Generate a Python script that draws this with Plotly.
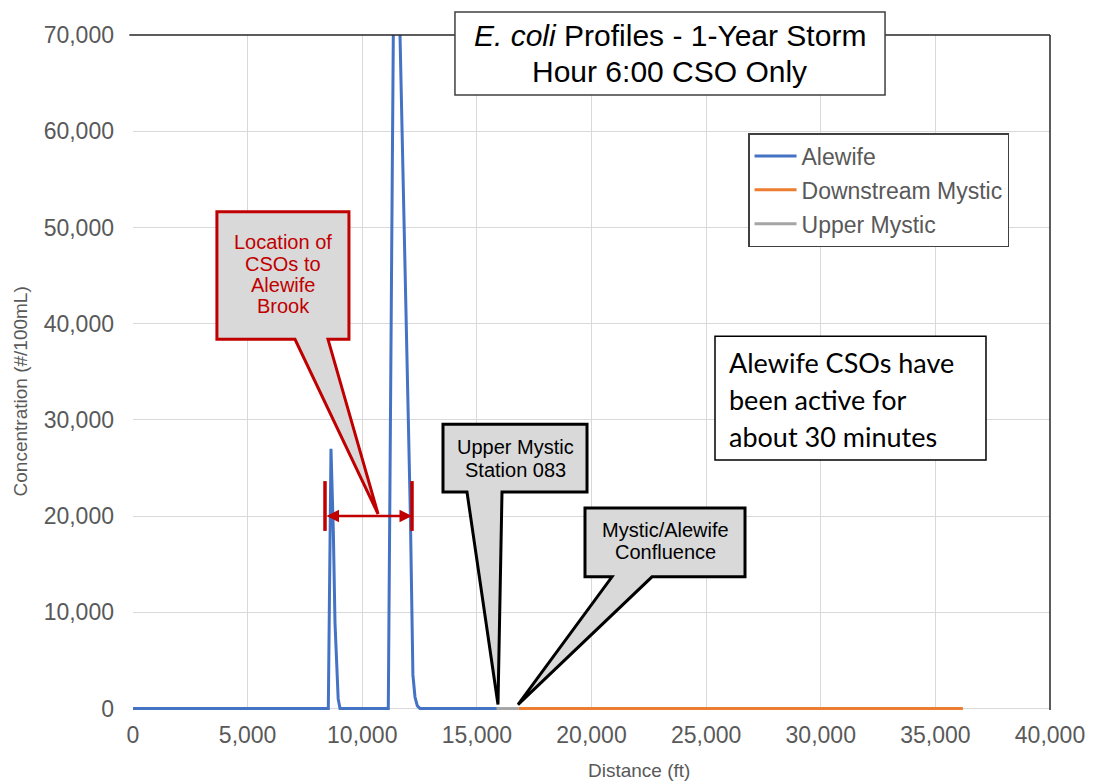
import plotly.graph_objects as go

# ---------------- data ----------------
alewife_x = [0, 8520, 8636, 8740, 8810, 8885, 8950, 9030, 11136, 11430, 12100, 12210, 12300, 12400, 12520, 15870]
alewife_y = [0, 0, 27000, 18300, 9000, 3500, 1000, 0, 0, 94000, 20000, 3500, 1200, 300, 0, 0]

upper_mystic_x = [15870, 16830]
upper_mystic_y = [0, 0]

downstream_x = [16830, 36200]
downstream_y = [0, 0]

x_ticks = [0, 5000, 10000, 15000, 20000, 25000, 30000, 35000, 40000]
y_ticks = [0, 10000, 20000, 30000, 40000, 50000, 60000, 70000]

BLUE = "#4472c4"
ORANGE = "#ed7d31"
GREY = "#a5a5a5"
RED = "#c00000"
TXT = "#595959"
FONT = "Liberation Sans, Arial, sans-serif"

fig = go.Figure()
fig.add_trace(go.Scatter(x=alewife_x, y=alewife_y, mode="lines", name="Alewife",
                         line=dict(color=BLUE, width=3), legendgroup="a"))
fig.add_trace(go.Scatter(x=downstream_x, y=downstream_y, mode="lines", name="Downstream Mystic",
                         line=dict(color=ORANGE, width=3), legendgroup="b"))
fig.add_trace(go.Scatter(x=upper_mystic_x, y=upper_mystic_y, mode="lines", name="Upper Mystic",
                         line=dict(color=GREY, width=3), legendgroup="c"))

shapes = []
annotations = []

# plot frame: black top and right edges
shapes.append(dict(type="line", xref="paper", yref="paper", x0=-0.004, x1=1, y0=1, y1=1,
                   line=dict(color="#262626", width=1.5), layer="above"))
shapes.append(dict(type="line", xref="paper", yref="paper", x0=1, x1=1, y0=0, y1=1,
                   line=dict(color="#262626", width=1.5), layer="above"))


def callout(box, base, tip, edge_color):
    x0, x1, ytop, ybot = box
    b0, b1 = base
    tx, ty = tip
    path = (f"M {x0},{ytop} L {x1},{ytop} L {x1},{ybot} L {b1},{ybot} "
            f"L {tx},{ty} L {b0},{ybot} L {x0},{ybot} Z")
    shapes.append(dict(type="path", xref="x", yref="y", path=path,
                       fillcolor="#d9d9d9", line=dict(color=edge_color, width=3), layer="above"))


def lines_text(xc, ys, texts, color, size, family=FONT, xanchor="center"):
    for yy, t in zip(ys, texts):
        annotations.append(dict(x=xc, y=yy, xref="x", yref="y", text=t, showarrow=False,
                                xanchor=xanchor, yanchor="middle",
                                font=dict(family=family, size=size, color=color)))


# red callout: Location of CSOs to Alewife Brook
callout((3660, 9420, 51644, 38370), (7067, 8506), (10690, 20220), RED)
lines_text(6543, [48481, 46252, 43970, 41793],
           ["Location of", "CSOs to", "Alewife", "Brook"], RED, 20)

# red double arrow
annotations.append(dict(x=12170, y=20000, ax=8375, ay=20000, xref="x", yref="y",
                        axref="x", ayref="y", showarrow=True, arrowhead=2, startarrowhead=2,
                        arrowside="end+start", arrowsize=1, startarrowsize=1,
                        arrowwidth=2.5, arrowcolor=RED, standoff=0, startstandoff=0, text=""))
for bx in (8375, 12170):
    shapes.append(dict(type="line", xref="x", yref="y", x0=bx, x1=bx, y0=18460, y1=23640,
                       line=dict(color=RED, width=3.5), layer="above"))

# Upper Mystic Station 083
callout((13522, 19804, 29556, 22504), (14569, 16096), (15921, 415), "#000000")
lines_text(16706, [27170, 24785], ["Upper Mystic", "Station 083"], "#000000", 20)

# Mystic/Alewife Confluence
callout((19716, 26696, 20844, 13689), (20894, 22639), (16794, 415), "#000000")
lines_text(23206, [18563, 16281], ["Mystic/Alewife", "Confluence"], "#000000", 20)

# text box
shapes.append(dict(type="rect", xref="x", yref="y", x0=25387, x1=37208, y0=25822, y1=38681,
                   fillcolor="white", line=dict(color="#000000", width=1.5), layer="above"))
lines_text(25911, [35985, 32148, 28311],
           ["Alewife CSOs have", "been active for", "about 30 minutes"],
           "#000000", 27, family="Lato, Carlito, sans-serif", xanchor="left")

# title box
shapes.append(dict(type="rect", xref="paper", yref="paper", x0=0.3511, x1=0.8201,
                   y0=0.9111, y1=1.0341, fillcolor="white",
                   line=dict(color="#404040", width=1.5), layer="above"))
for yy, t in [(1.0, "<i>E. coli</i> Profiles - 1-Year Storm"), (0.9452, "Hour 6:00 CSO Only")]:
    annotations.append(dict(x=0.5856, y=yy, xref="paper", yref="paper", text=t, showarrow=False,
                            xanchor="center", yanchor="middle",
                            font=dict(family=FONT, size=30, color="#000000")))

# axis titles
annotations.append(dict(x=-0.1232, y=0.472, xref="paper", yref="paper",
                        text="Concentration (#/100mL)", textangle=-90, showarrow=False,
                        xanchor="center", yanchor="middle",
                        font=dict(family=FONT, size=19, color=TXT)))
annotations.append(dict(x=0.5518, y=-0.0889, xref="paper", yref="paper",
                        text="Distance (ft)", showarrow=False, xanchor="center", yanchor="middle",
                        font=dict(family=FONT, size=19, color=TXT)))

fig.update_layout(
    width=1094, height=784,
    margin=dict(l=133, r=44, t=35, b=74, autoexpand=False),
    paper_bgcolor="white", plot_bgcolor="white",
    font=dict(family=FONT, color=TXT),
    shapes=shapes, annotations=annotations,
    legend=dict(x=0.6707, y=0.8548, xanchor="left", yanchor="top",
                bgcolor="white", bordercolor="#404040", borderwidth=1.5,
                font=dict(family=FONT, size=23, color=TXT), tracegroupgap=1,
                itemwidth=42),
    xaxis=dict(range=[0, 40000], tickvals=x_ticks, tickformat=",d",
               showgrid=True, gridcolor="#d9d9d9", gridwidth=1, zeroline=False,
               showline=False, ticks="", ticklabelstandoff=9,
               tickfont=dict(family=FONT, size=23, color=TXT)),
    yaxis=dict(range=[-150, 70000], tickvals=y_ticks, tickformat=",d",
               showgrid=True, gridcolor="#d9d9d9", gridwidth=1, zeroline=False,
               showline=False, ticks="", ticklabelstandoff=18,
               tickfont=dict(family=FONT, size=23, color=TXT)),
)

fig.write_html("out.html")
